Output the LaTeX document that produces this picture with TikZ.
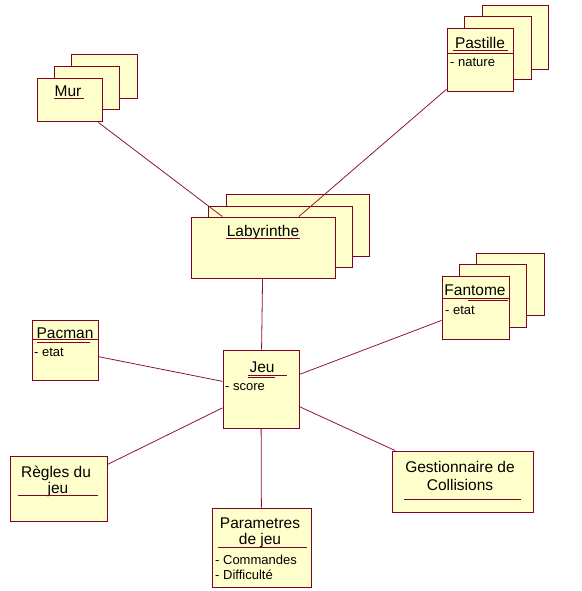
\documentclass[tikz,border=0pt]{standalone}
\usepackage{fontspec}
\setmainfont{Liberation Sans}
\definecolor{boxfill}{RGB}{255,255,204}
\definecolor{boxline}{RGB}{128,0,40}
\definecolor{linkcol}{RGB}{140,20,60}
\tikzset{
  cls/.style={draw=boxline, fill=boxfill, line width=1pt, inner sep=0pt},
  back/.style={draw=boxline, fill=boxfill, line width=1pt},
  link/.style={draw=linkcol, line width=0.8pt},
  uline/.style={draw=boxline, line width=1pt},
  title/.style={font=\fontsize{15.5}{18}\selectfont, anchor=base, inner sep=0pt},
  attr/.style={font=\fontsize{13}{15}\selectfont, anchor=base west, inner sep=0pt},
}
\begin{document}
\begin{tikzpicture}[x=1pt,y=-1pt]
\useasboundingbox (0,0) rectangle (581,591);
% stacked back boxes
\draw[back] (71,55) rectangle (137,99);
\draw[back] (54,67) rectangle (119,110);
\draw[back] (482,6) rectangle (548,70);
\draw[back] (464,17) rectangle (531,80);
\draw[back] (226,194) rectangle (369,256);
\draw[back] (208,206) rectangle (352,267);
\draw[back] (476,253) rectangle (544,315);
\draw[back] (459,264) rectangle (526,327);
% front boxes
\node[cls, minimum width=65, minimum height=43] (mur) at (69.5,100.5) {};
\node[cls, minimum width=66, minimum height=63] (pastille) at (480,60.5) {};
\node[cls, minimum width=144, minimum height=61] (lab) at (263,247.5) {};
\node[cls, minimum width=67, minimum height=63] (fantome) at (475.5,307.5) {};
\node[cls, minimum width=66, minimum height=60] (pacman) at (65,350) {};
\node[cls, minimum width=76, minimum height=78] (jeu) at (261,389) {};
\node[cls, minimum width=97, minimum height=65] (regles) at (58.5,488.5) {};
\node[cls, minimum width=141, minimum height=61] (gest) at (462.5,481.5) {};
\node[cls, minimum width=99, minimum height=79] (param) at (261.5,547.5) {};
% connectors
\draw[link] (mur) -- (lab);
\draw[link] (pastille) -- (lab);
\draw[link] (lab) -- (jeu);
\draw[link] (pacman) -- (jeu);
\draw[link] (fantome) -- (jeu);
\draw[link] (regles) -- (jeu);
\draw[link] (gest) -- (jeu);
\draw[link] (param) -- (jeu);
% texts
\node[title] (tmur) at (68,97) {Mur};
\draw[uline] (54,99) -- (84,99);
\node[title] (tpast) at (480,49) {Pastille};
\draw[uline] (453,51) -- (508,51);
\draw[uline] (447,54) -- (513,54);
\node[attr] (apast) at (450,67) {- nature};
\node[title] (tlab) at (263,236) {Labyrinthe};
\draw[uline] (226,238) -- (300,238);
\node[title] (tfant) at (475,295) {Fantome};
\draw[uline] (442,298) -- (509,298);
\draw[uline] (468,300) -- (508,300);
\node[attr] (afant) at (445,314) {- etat};
\node[title] (tpac) at (65,338) {Pacman};
\draw[uline] (32,339) -- (98,339);
\draw[uline] (37,342) -- (90,342);
\node[attr] (apac) at (34,356) {- etat};
\node[title] (tjeu) at (262,372) {Jeu};
\draw[uline] (248,375) -- (287,375);
\draw[uline] (248,377) -- (275,377);
\node[attr] (ajeu) at (225,390) {- score};
\node[title] (treg1) at (56,477) {Règles du};
\node[title] (treg2) at (58,493) {jeu};
\draw[uline] (18,495) -- (98,495);
\node[title] (tgest1) at (460,472) {Gestionnaire de};
\node[title] (tgest2) at (460,490) {Collisions};
\draw[uline] (404,499) -- (521,499);
\node[title] (tpar1) at (260,528) {Parametres};
\node[title] (tpar2) at (260,544) {de jeu};
\draw[uline] (218,547) -- (307,547);
\node[attr] (apar1) at (215,564) {- Commandes};
\node[attr] (apar2) at (215,579) {- Difficulté};
\end{tikzpicture}
\end{document}
